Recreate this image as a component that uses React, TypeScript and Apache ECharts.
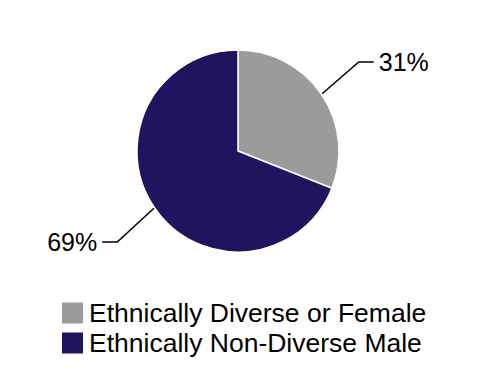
import React, { useEffect, useRef } from "react";
import * as echarts from "echarts";

const categories = ["Ethnically Diverse or Female", "Ethnically Non-Diverse Male"];
const values = [31, 69];
const colors = ["#9b9b9b", "#22135f"];

export default function App() {
  const ref = useRef<HTMLDivElement>(null);
  useEffect(() => {
    if (!ref.current) return;
    const chart = echarts.init(ref.current, undefined, { renderer: "svg" });
    chart.setOption({
      animation: false,
      legend: {
        orient: "vertical",
        left: 55,
        top: 293,
        itemWidth: 23,
        itemHeight: 23,
        itemGap: 0,
        icon: "rect",
        data: categories,
        textStyle: {
          fontFamily: "Liberation Sans, Arial, sans-serif",
          fontSize: 26.5,
          color: "#000",
          lineHeight: 30,
        },
      },
      series: [
        {
          type: "pie",
          center: [238, 151],
          radius: 101,
          startAngle: 90,
          clockwise: true,
          data: categories.map((name, i) => ({
            name,
            value: values[i],
            itemStyle: { color: colors[i] },
          })),
          itemStyle: { borderColor: "#fff", borderWidth: 1.5 },
          label: {
            show: true,
            formatter: "{c}%",
            fontFamily: "Liberation Sans, Arial, sans-serif",
            fontSize: 25,
            color: "#000",
          },
          labelLine: {
            show: true,
            length: 45,
            length2: 15,
            lineStyle: { color: "#000", width: 1.5 },
          },
          labelLayout: (params: any) => {
            const dy = params.dataIndex === 0 ? -7 : 9;
            const pts = params.labelLinePoints;
            const out: any = { dy };
            if (pts && pts.length === 3) {
              out.labelLinePoints = [
                [pts[0][0], pts[0][1]],
                [pts[1][0], pts[1][1] + dy],
                [pts[2][0], pts[2][1] + dy],
              ];
            }
            return out;
          },
        },
      ],
    });
    return () => chart.dispose();
  }, []);
  return (
    <div
      ref={ref}
      style={{ position: "fixed", left: 0, top: 0, width: 478, height: 380, background: "#fff" }}
    />
  );
}
